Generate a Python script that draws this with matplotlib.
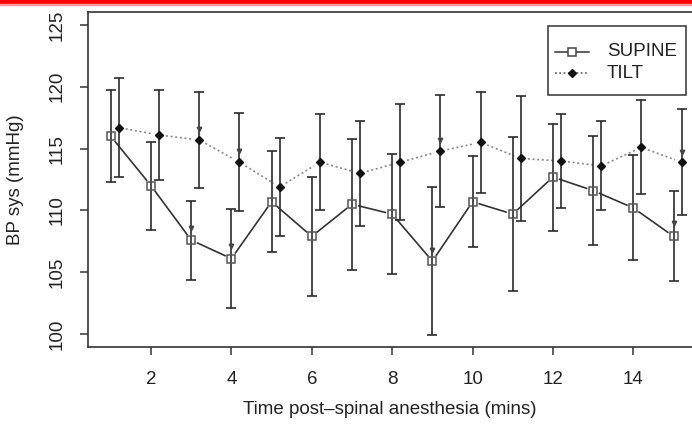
import matplotlib
matplotlib.use("Agg")
import matplotlib.pyplot as plt
from matplotlib.patches import Rectangle
import numpy as np

plt.rcParams['font.family'] = ['Liberation Sans', 'DejaVu Sans']

# Time points (mins); tilt drawn with a small offset to the right
minutes = [1, 2, 3, 4, 5, 6, 7, 8, 9, 10, 11, 12, 13, 14, 15]
tilt_offset = 0.2

supine_mean = [116.0, 112.0, 107.6, 106.1, 110.7, 107.9, 110.5, 109.7, 105.9, 110.7, 109.7, 112.7, 111.6, 110.2, 107.9]
supine_sd = [3.7, 3.55, 3.2, 4.0, 4.1, 4.8, 5.3, 4.85, 6.0, 3.67, 6.25, 4.33, 4.4, 4.25, 3.65]

tilt_mean = [116.7, 116.1, 115.7, 113.9, 111.9, 113.9, 113.0, 113.9, 114.8, 115.5, 114.2, 114.0, 113.6, 115.1, 113.9]
tilt_sd = [4.0, 3.67, 3.87, 3.94, 3.94, 3.9, 4.25, 4.7, 4.55, 4.07, 5.04, 3.8, 3.6, 3.8, 4.27]

# small down-pointing marks seen above some points
supine_mark_x = [3, 4, 9, 15]
supine_mark_y = [108.6, 107.1, 106.8, 108.95]
tilt_mark_x = [3.2, 4.2, 9.2, 15.2]
tilt_mark_y = [116.6, 114.8, 115.7, 114.7]

xticks = [2, 4, 6, 8, 10, 12, 14]
yticks = [100, 105, 110, 115, 120, 125]

FS = 13.5
W, H = 692, 425
fig = plt.figure(figsize=(W / 100, H / 100), dpi=100)
ax = fig.add_axes([88 / W, 78 / H, 616 / W, 335 / H])
ax.set_xlim(0.433, 15.757)
ax.set_ylim(98.95, 126.05)

dark = '#2b2b2b'
tx = np.array(minutes) + tilt_offset


def gapped_line(xs, ys, gap, **kw):
    # R type="b": segments with a gap around each point
    fig.canvas.draw()
    pts = ax.transData.transform(np.column_stack([xs, ys]))
    inv = ax.transData.inverted()
    for p, q in zip(pts[:-1], pts[1:]):
        d = q - p
        L = np.hypot(*d)
        if L <= 2 * gap:
            continue
        u = d / L
        a = inv.transform(p + u * gap)
        b = inv.transform(q - u * gap)
        ax.plot([a[0], b[0]], [a[1], b[1]], **kw)


gapped_line(minutes, supine_mean, 7, color='#333333', lw=1.2, ls='-')
gapped_line(tx, tilt_mean, 7, color='#888888', lw=1.2, ls=(0, (1.2, 1.6)))

ax.errorbar(minutes, supine_mean, yerr=supine_sd, fmt='none', ecolor=dark,
            elinewidth=1.2, capsize=3.3, capthick=1.2)
ax.errorbar(tx, tilt_mean, yerr=tilt_sd, fmt='none', ecolor=dark,
            elinewidth=1.2, capsize=3.3, capthick=1.2)

ax.plot(supine_mark_x, supine_mark_y, 'v', ms=3.2, color='#444444')
ax.plot(tilt_mark_x, tilt_mark_y, 'v', ms=3.2, color='#444444')

ax.plot(minutes, supine_mean, 's', ms=6, mfc='none', mec='#555555', mew=1.1)
ax.plot(tx, tilt_mean, 'D', ms=4, color='#111111')

ax.set_xticks(xticks)
ax.set_yticks(yticks)
ax.set_yticklabels([str(v) for v in yticks], rotation=90, va='center')
ax.tick_params(axis='both', direction='out', length=6, width=1.1,
               color='#333333', labelsize=FS, labelcolor='#222222')
ax.tick_params(axis='y', pad=10)
ax.tick_params(axis='x', pad=11)
for s in ax.spines.values():
    s.set_color('#333333')
    s.set_linewidth(1.2)

ax.set_xlabel('Time post\u2013spinal anesthesia (mins)', fontsize=FS, color='#222222', va='center')
ax.xaxis.set_label_coords((390 - 88) / 616, (347 - 410) / 335)
ax.set_ylabel('BP sys (mmHg)', fontsize=FS, color='#222222')
ax.yaxis.set_label_coords((24 - 88) / 616, 0.5)

# legend drawn by hand like R's legend box
leg_box = Rectangle((548 / W, 1 - 95 / H), (686 - 548) / W, (95 - 26) / H,
                    transform=fig.transFigure, fill=True, fc='white',
                    ec='#333333', lw=1.1, zorder=5)
fig.patches.append(leg_box)
for yy, label, style in [(52, 'SUPINE', 's'), (73, 'TILT', 'D')]:
    fy = 1 - yy / H
    if style == 's':
        fig.add_artist(plt.Line2D([555 / W, 589 / W], [fy, fy], color='#333333', lw=1.1, zorder=6))
        fig.add_artist(plt.Line2D([572 / W], [fy], marker='s', ms=6, mfc='white', mec='#444444', mew=1.1, zorder=7))
    else:
        fig.add_artist(plt.Line2D([555 / W, 589 / W], [fy, fy], color='#555555', lw=1.1,
                                  ls=(0, (1.2, 1.6)), zorder=6))
        fig.add_artist(plt.Line2D([572 / W], [fy], marker='D', ms=4, color='#111111', zorder=7))
    fig.text(607 / W, fy, label, fontsize=FS, va='center', ha='left', color='#222222', zorder=7)

# red strip along the top
fig.patches.append(Rectangle((0, 1 - 4 / H), 1, 4 / H, transform=fig.transFigure,
                             color='#ff0000', zorder=10))
fig.patches.append(Rectangle((0, 1 - 5 / H), 1, 1 / H, transform=fig.transFigure,
                             color='#ff9a9a', zorder=10))

fig.savefig('out.png', dpi=100)
